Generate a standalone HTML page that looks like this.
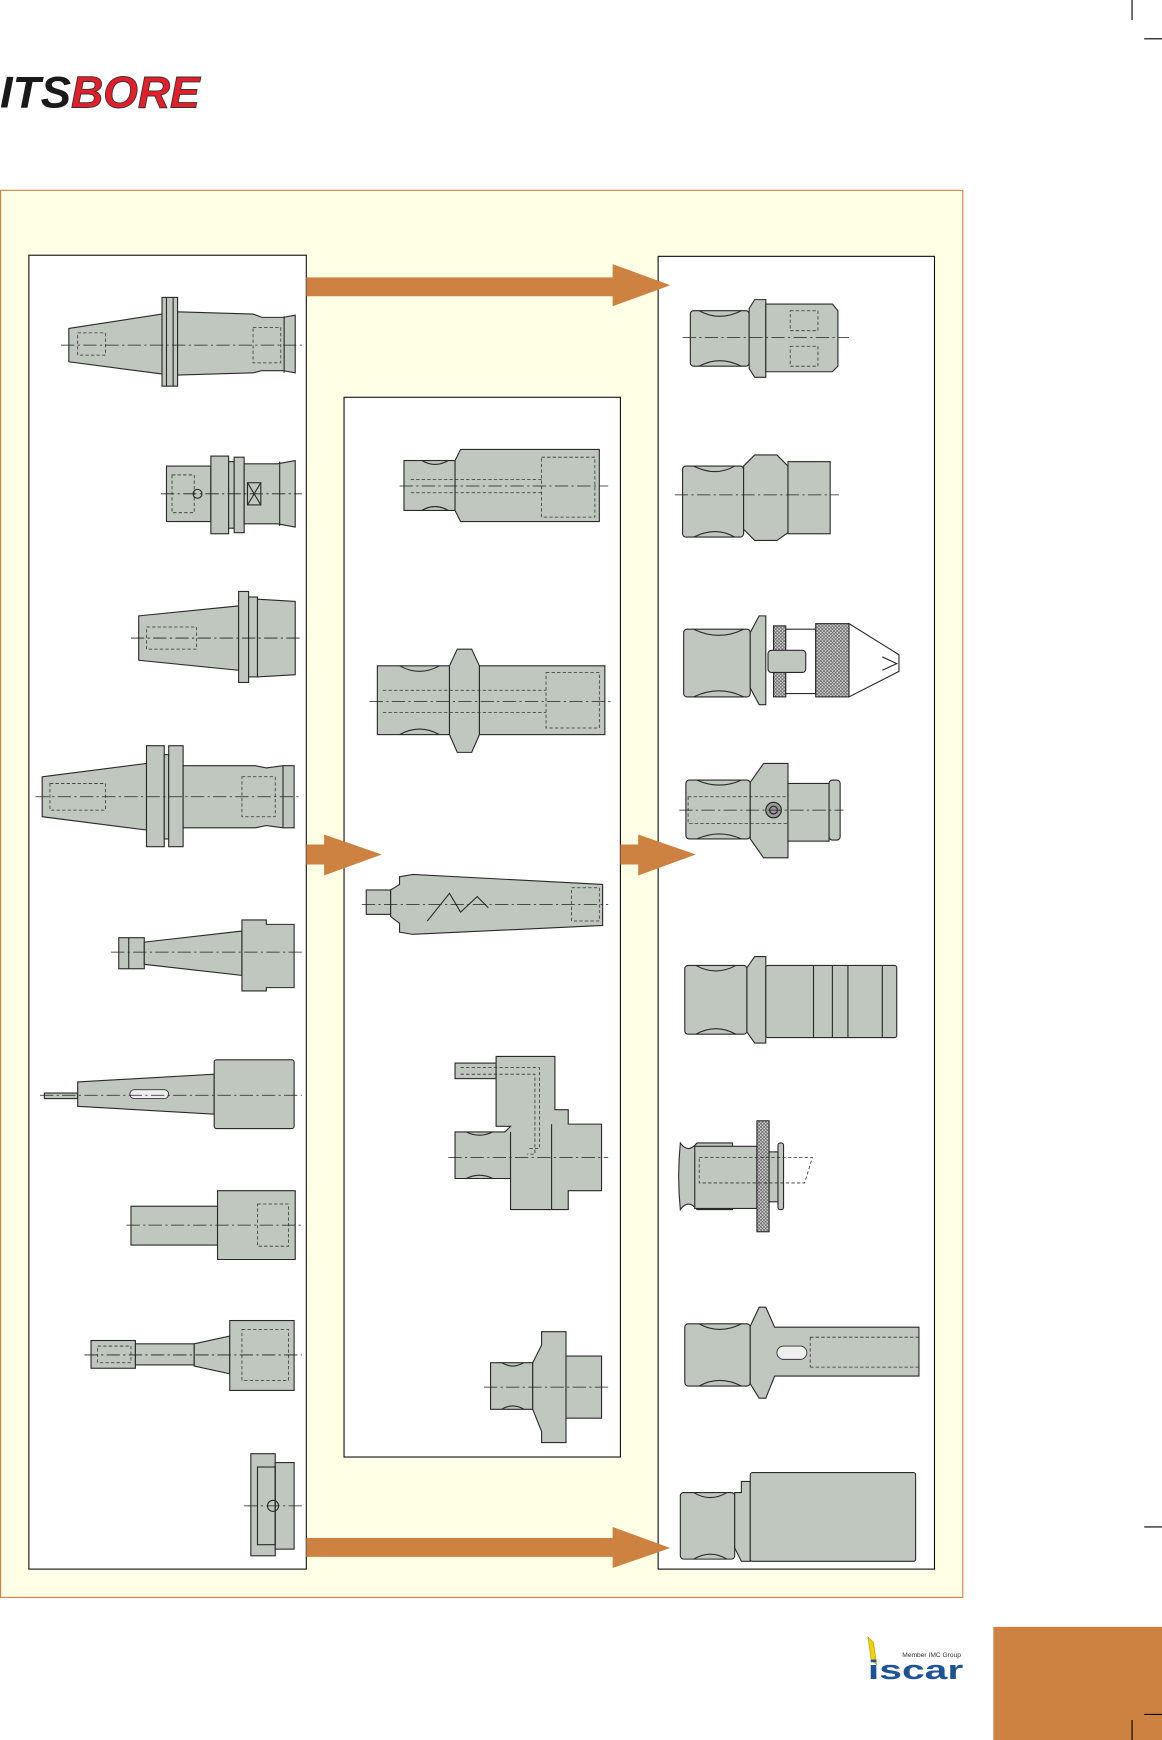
<!DOCTYPE html>
<html><head><meta charset="utf-8"><style>
html,body{margin:0;padding:0;background:#fff}
svg{display:block}
.t{fill:#BFC7BF;stroke:#2a2a2a;stroke-width:1}
.c{stroke:#222;stroke-width:.7;fill:none;stroke-dasharray:12 3 2 3}
.d{stroke:#333;stroke-width:.7;fill:none;stroke-dasharray:3 2}
.l{stroke:#2a2a2a;stroke-width:1;fill:none}
.o{fill:#CE8242}
.h{fill:url(#hatch);stroke:#2a2a2a;stroke-width:1}
</style></head><body>
<svg width="1162" height="1740" viewBox="0 0 1047 1568" preserveAspectRatio="none" xmlns="http://www.w3.org/2000/svg">
<defs>
<pattern id="hatch" width="3" height="3" patternUnits="userSpaceOnUse">
<rect width="3" height="3" fill="#ddd"/><path d="M0 0L3 3M3 0L0 3" stroke="#555" stroke-width=".6"/></pattern>
</defs>
<!-- crop marks -->
<line x1="1020" y1="0" x2="1020" y2="18" stroke="#000" stroke-width="1"/>
<line x1="1031" y1="35" x2="1047" y2="35" stroke="#000" stroke-width="1"/>
<line x1="1031" y1="1376" x2="1047" y2="1376" stroke="#000" stroke-width="1"/>
<!-- logo -->
<text x="0" y="97" font-family="Liberation Sans, sans-serif" font-weight="bold" font-style="italic" font-size="40" fill="#1a1a1a" textLength="64" lengthAdjust="spacingAndGlyphs">ITS</text>
<text x="64" y="97" font-family="Liberation Sans, sans-serif" font-weight="bold" font-style="italic" font-size="40" fill="#E51E2B" stroke="#333" stroke-width=".8" textLength="116" lengthAdjust="spacingAndGlyphs">BORE</text>
<!-- frame -->
<rect x="0.5" y="171.5" width="867" height="1268" fill="#FFFFE6" stroke="#D08040" stroke-width="1"/>
<rect x="26" y="230" width="250" height="1184" fill="#fff" stroke="#111" stroke-width="1"/>
<rect x="310" y="358" width="249" height="955" fill="#fff" stroke="#111" stroke-width="1"/>
<rect x="593" y="231" width="249" height="1183" fill="#fff" stroke="#111" stroke-width="1"/>
<!-- arrows -->
<polygon class="o" points="276,250 552,250 552,238 604,257 552,276 552,267 276,267"/>
<polygon class="o" points="276,1386 552,1386 552,1376 604,1395 552,1413 552,1403 276,1403"/>
<polygon class="o" points="276,761 292,761 292,752 344,770 292,789 292,779 276,779"/>
<polygon class="o" points="559,761 575,761 575,752 627,770 575,789 575,779 559,779"/>
<!-- bottom right block -->
<rect x="895" y="1466" width="152" height="102" class="o"/>
<line x1="1031" y1="1545" x2="1047" y2="1545" stroke="#000" stroke-width="1"/>
<line x1="1020" y1="1550" x2="1020" y2="1568" stroke="#000" stroke-width="1"/>
<!-- iscar logo -->
<polygon points="782,1475 787,1480 790,1500 785,1496" fill="#F2D200" stroke="#a90" stroke-width=".5"/>
<text x="813" y="1493" font-family="Liberation Sans, sans-serif" font-size="6" fill="#333">Member IMC Group</text>
<text x="782" y="1513" font-family="Liberation Sans, sans-serif" font-weight="bold" font-size="24" fill="#1E5496" textLength="86" lengthAdjust="spacingAndGlyphs">iscar</text>

<!-- LEFT COLUMN -->
<g>
<polygon class="t" points="62,296 146,283 146,337 62,326"/>
<rect class="t" x="146" y="268" width="14" height="80"/>
<line class="l" x1="150" y1="268" x2="150" y2="348"/><line class="l" x1="156" y1="268" x2="156" y2="348"/>
<polygon class="t" points="160,281 228,283 236,286 255,286 266,284 266,336 255,334 236,334 228,336 160,338"/>
<line class="l" x1="256" y1="285" x2="256" y2="336"/>
<rect class="d" x="70" y="300" width="25" height="20"/><rect class="d" x="228" y="295" width="25" height="32"/>
<line class="c" x1="55" y1="311" x2="272" y2="311"/>
</g>
<g>
<rect class="t" x="150" y="420" width="40" height="50"/>
<rect class="t" x="190" y="411" width="16" height="70"/>
<rect class="t" x="206" y="416" width="5" height="60"/>
<rect class="t" x="211" y="412" width="9" height="68"/>
<polygon class="t" points="220,418 250,418 266,415 266,475 250,472 220,472"/>
<line class="l" x1="252" y1="416" x2="252" y2="474"/>
<rect class="l" x="223" y="435" width="12" height="20"/><path class="l" d="M223 435L235 455M235 435L223 455"/>
<circle class="l" cx="178" cy="445" r="4"/>
<rect class="d" x="155" y="428" width="20" height="34"/>
<line class="c" x1="145" y1="445" x2="272" y2="445"/>
</g>
<g>
<polygon class="t" points="125,555 215,546 215,604 125,595"/>
<rect class="t" x="215" y="533" width="9" height="82"/>
<rect class="t" x="224" y="538" width="8" height="72"/>
<polygon class="t" points="232,540 266,542 266,608 232,610"/>
<rect class="d" x="132" y="565" width="45" height="20"/>
<line class="c" x1="118" y1="575" x2="272" y2="575"/>
</g>
<g>
<polygon class="t" points="38,700 132,688 132,748 38,736"/>
<rect class="t" x="132" y="672" width="16" height="91"/>
<rect class="t" x="148" y="680" width="4" height="76"/>
<rect class="t" x="152" y="672" width="13" height="91"/>
<polygon class="t" points="165,690 230,690 240,692 255,690 265,690 265,746 255,746 240,744 230,746 165,746"/>
<line class="l" x1="255" y1="690" x2="255" y2="746"/>
<rect class="d" x="45" y="706" width="50" height="24"/><rect class="d" x="218" y="700" width="30" height="36"/>
<line class="c" x1="32" y1="718" x2="272" y2="718"/>
</g>
<g>
<rect class="t" x="107" y="845" width="23" height="28"/>
<polygon class="t" points="130,849 218,839 218,879 130,869"/>
<polygon class="t" points="218,829 240,829 240,833 265,833 265,890 240,890 240,893 218,893"/>
<line class="l" x1="116" y1="845" x2="116" y2="873"/>
<line class="c" x1="100" y1="858" x2="272" y2="858"/>
</g>
<g>
<rect class="t" x="40" y="985" width="30" height="5"/>
<polygon class="t" points="70,975 193,968 193,1004 70,997"/>
<rect class="t" x="193" y="955" width="72" height="62" rx="2"/>
<rect x="117" y="982" width="35" height="8" rx="4" fill="#eee" stroke="#333" stroke-width=".8"/>
<line class="c" x1="36" y1="987" x2="272" y2="987"/>
</g>
<g>
<rect class="t" x="118" y="1087" width="78" height="35"/>
<polygon class="t" points="196,1073 266,1073 266,1135 196,1135"/>
<rect class="d" x="232" y="1085" width="28" height="38"/>
<line class="c" x1="114" y1="1104" x2="272" y2="1104"/>
</g>
<g>
<rect class="t" x="82" y="1208" width="40" height="25"/>
<rect class="t" x="122" y="1211" width="53" height="19"/>
<polygon class="t" points="175,1211 207,1204 207,1238 175,1231"/>
<rect class="t" x="207" y="1190" width="58" height="63"/>
<rect class="d" x="88" y="1213" width="30" height="15"/><rect class="d" x="218" y="1198" width="42" height="46"/>
<line class="c" x1="76" y1="1221" x2="272" y2="1221"/>
</g>
<g>
<rect class="t" x="226" y="1310" width="22" height="92"/>
<rect class="t" x="248" y="1318" width="17" height="78"/>
<rect class="l" x="232" y="1322" width="16" height="70"/>
<circle class="l" cx="246" cy="1357" r="5"/>
<line class="c" x1="220" y1="1357" x2="272" y2="1357"/>
</g>

<!-- MIDDLE COLUMN -->
<g>
<rect class="t" x="364" y="415" width="46" height="45"/>
<path class="l" d="M380 415Q392 422 404 415M380 460Q392 453 404 460"/>
<polygon class="t" points="410,415 415,405 540,405 540,470 415,470 410,460"/>
<rect class="d" x="488" y="412" width="48" height="54"/><line class="d" x1="370" y1="432" x2="488" y2="432"/><line class="d" x1="370" y1="444" x2="488" y2="444"/>
<line class="c" x1="360" y1="438" x2="548" y2="438"/>
</g>
<g>
<rect class="t" x="340" y="600" width="65" height="62"/>
<path class="l" d="M360 600Q378 610 396 600M360 662Q378 652 396 662"/>
<polygon class="t" points="405,600 412,585 425,585 432,600 432,662 425,678 412,678 405,662"/>
<rect class="t" x="432" y="600" width="113" height="62"/>
<rect class="d" x="492" y="606" width="48" height="50"/><line class="d" x1="345" y1="622" x2="492" y2="622"/><line class="d" x1="345" y1="642" x2="492" y2="642"/>
<line class="c" x1="333" y1="632" x2="552" y2="632"/>
</g>
<g>
<rect class="t" x="330" y="802" width="22" height="22"/>
<polygon class="t" points="352,802 360,797 360,790 372,788 543,797 543,834 372,842 360,840 360,832 352,826"/>
<path class="l" d="M385 830L405 805L415 822L430 808L440 818"/>
<rect class="d" x="515" y="800" width="25" height="30"/>
<line class="c" x1="326" y1="815" x2="548" y2="815"/>
</g>
<g>
<rect class="t" x="410" y="958" width="37" height="14"/>
<polygon class="t" points="447,952 500,952 500,1000 512,1000 512,1013 542,1013 542,1073 512,1073 512,1090 460,1090 460,1062 410,1062 410,1020 455,1020 460,1015 447,1015"/>
<path class="l" d="M497 1013V1090M460 1020V1062"/>
<path class="d" d="M415 962H486V1035H475M415 968H482V1040H475"/>
<path class="l" d="M420 1020Q432 1026 444 1020M420 1062Q432 1056 444 1062"/>
<line class="c" x1="404" y1="1043" x2="548" y2="1043"/>
</g>
<g>
<rect class="t" x="442" y="1228" width="38" height="42"/>
<polygon class="t" points="480,1228 488,1212 488,1200 510,1200 510,1300 488,1300 488,1290 480,1270"/>
<rect class="t" x="510" y="1222" width="32" height="56"/>
<path class="l" d="M452 1228Q462 1234 472 1228M452 1270Q462 1264 472 1270"/>
<line class="c" x1="436" y1="1250" x2="548" y2="1250"/>
</g>

<!-- RIGHT COLUMN -->
<g>
<rect class="t" x="622" y="280" width="53" height="50" rx="3"/>
<path class="l" d="M630 280Q648 290 668 280M630 330Q648 320 668 330"/>
<polygon class="t" points="675,278 680,270 690,270 690,340 680,340 675,332"/>
<polygon class="t" points="690,274 750,274 755,280 755,330 750,335 690,335"/>
<rect class="d" x="712" y="280" width="25" height="18"/><rect class="d" x="712" y="312" width="25" height="18"/>
<line class="c" x1="615" y1="304" x2="765" y2="304"/>
</g>
<g>
<rect class="t" x="615" y="420" width="55" height="64" rx="3"/>
<path class="l" d="M625 420Q645 430 662 420M625 484Q645 474 662 484"/>
<polygon class="t" points="670,420 680,410 700,410 710,420 710,480 700,487 680,487 670,477"/>
<rect class="t" x="710" y="416" width="38" height="65"/>
<line class="c" x1="608" y1="446" x2="756" y2="446"/>
</g>
<g>
<rect class="t" x="616" y="567" width="60" height="61" rx="3"/>
<path class="l" d="M625 567Q648 578 670 567M625 628Q648 617 670 628"/>
<polygon class="t" points="676,570 684,555 690,555 690,635 684,635 676,620"/>
<rect class="h" x="697" y="564" width="11" height="64"/>
<rect x="708" y="567" width="27" height="58" fill="#fff" stroke="#2a2a2a"/>
<rect class="t" x="692" y="586" width="34" height="20" rx="3"/>
<rect class="h" x="735" y="562" width="30" height="66"/>
<polygon points="765,562 765,628 810,605 810,590" fill="#fff" stroke="#2a2a2a"/>
<path class="l" d="M795 592L808 598L795 604"/>
</g>
<g>
<rect class="t" x="618" y="703" width="58" height="53" rx="3"/>
<path class="l" d="M628 703Q648 712 668 703M628 756Q648 747 668 756"/>
<polygon class="t" points="676,705 688,688 710,688 710,773 688,773 676,756"/>
<rect class="t" x="710" y="706" width="37" height="52"/>
<rect class="t" x="747" y="703" width="10" height="54" rx="3"/>
<circle cx="697" cy="730" r="7" fill="#999" stroke="#222"/><circle cx="697" cy="730" r="3.5" fill="none" stroke="#222"/>
<rect class="d" x="620" y="718" width="90" height="24"/>
<line class="c" x1="612" y1="730" x2="760" y2="730"/>
</g>
<g>
<rect class="t" x="617" y="870" width="56" height="62" rx="3"/>
<path class="l" d="M627 870Q645 880 663 870M627 932Q645 922 663 932"/>
<polygon class="t" points="673,872 680,862 690,862 690,940 680,940 673,930"/>
<rect class="t" x="690" y="870" width="118" height="65" rx="2"/>
<path class="l" d="M733 870V935M750 870V935M764 870V935M795 870V935"/>
</g>
<g>
<path class="t" d="M613 1030Q620 1040 628 1030H660V1090H628Q620 1080 613 1090Q610 1060 613 1030Z"/>
<rect class="t" x="626" y="1033" width="56" height="56"/>
<rect class="h" x="682" y="1010" width="11" height="100"/>
<rect class="t" x="693" y="1038" width="8" height="45"/>
<rect class="t" x="701" y="1030" width="5" height="60" rx="2"/>
<path class="d" d="M630 1043H732L725 1066H630Z"/>
</g>
<g>
<rect class="t" x="617" y="1193" width="59" height="56" rx="3"/>
<path class="l" d="M630 1193Q648 1203 668 1193M630 1249Q648 1239 668 1249"/>
<polygon class="t" points="676,1195 684,1178 690,1178 698,1196 828,1196 828,1240 698,1240 690,1260 684,1260 676,1247"/>
<rect x="700" y="1213" width="27" height="12" rx="6" fill="#eee" stroke="#333" stroke-width=".8"/>
<path class="d" d="M730 1205H828M730 1232H828M730 1205V1232"/>
</g>
<g>
<rect class="t" x="613" y="1345" width="49" height="60" rx="3"/>
<path class="l" d="M625 1345Q640 1354 655 1345M625 1405Q640 1396 655 1405"/>
<polygon class="t" points="662,1345 668,1345 668,1335 676,1335 676,1407 668,1407 662,1395"/>
<rect class="t" x="676" y="1327" width="149" height="80" rx="2"/>
</g>
</svg>
</body></html>
